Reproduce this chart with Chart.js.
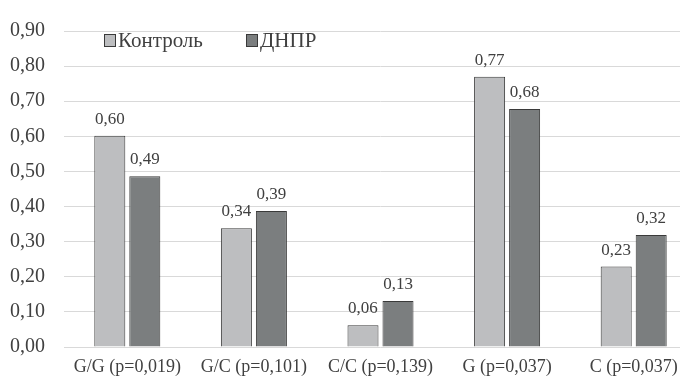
<!DOCTYPE html>
<html>
<head>
<meta charset="utf-8">
<script src="https://cdn.jsdelivr.net/npm/chart.js@4/dist/chart.umd.min.js"></script>
<style>
  html, body { margin: 0; padding: 0; background: #fff; }
  #wrap { width: 680px; height: 380px; overflow: hidden; }
  #box { width: 700px; height: 380px; }
</style>
</head>
<body>
<div id="wrap"><div id="box"><canvas id="chart"></canvas></div></div>
<script>
// data
const categories = ["G/G (p=0,019)", "G/C (p=0,101)", "C/C (p=0,139)", "G (p=0,037)", "C (p=0,037)"];
const seriesNames = ["Контроль", "ДНПР"];
const control = [0.602, 0.338, 0.062, 0.770, 0.229];
const dnpr = [0.486, 0.387, 0.131, 0.678, 0.319];
const yTicks = [0, 0.1, 0.2, 0.3, 0.4, 0.5, 0.6, 0.7, 0.8, 0.9];

const textColor = "#404040";
const serif = "\"Liberation Serif\", serif";
const fmt = v => v.toFixed(2).replace(".", ",");

// value labels above bars
const valueLabels = {
    id: "valueLabels",
    afterDatasetsDraw(chart) {
        const ctx = chart.ctx;
        ctx.save();
        ctx.font = "17px " + serif;
        ctx.fillStyle = textColor;
        ctx.textAlign = "center";
        ctx.textBaseline = "alphabetic";
        chart.data.datasets.forEach((ds, i) => {
            chart.getDatasetMeta(i).data.forEach((bar, j) => {
                ctx.fillText(fmt(ds.data[j]), bar.x, bar.y - 12);
            });
        });
        ctx.restore();
    }
};

// legend drawn inside the plot, top left
const innerLegend = {
    id: "innerLegend",
    afterDraw(chart) {
        const ctx = chart.ctx;
        ctx.save();
        ctx.font = "21px " + serif;
        ctx.textBaseline = "alphabetic";
        let x = 104;
        chart.data.datasets.forEach(ds => {
            ctx.fillStyle = ds.backgroundColor;
            ctx.strokeStyle = ds.borderColor;
            ctx.lineWidth = 1;
            ctx.fillRect(x, 34, 12, 13);
            ctx.strokeRect(x + 0.5, 34.5, 11, 12);
            ctx.fillStyle = textColor;
            ctx.fillText(ds.label, x + 14, 47);
            x += 142;
        });
        ctx.restore();
    }
};

new Chart(document.getElementById("chart"), {
    type: "bar",
    data: {
        labels: categories,
        datasets: [
            {
                label: seriesNames[0],
                data: control,
                backgroundColor: "#bdbec0",
                borderColor: "#3a3a3a",
                borderWidth: 1
            },
            {
                label: seriesNames[1],
                data: dnpr,
                backgroundColor: "#7b7e7f",
                borderColor: "#3a3a3a",
                borderWidth: 1
            }
        ]
    },
    options: {
        responsive: true,
        maintainAspectRatio: false,
        animation: false,
        layout: { padding: { top: 21, right: 3, left: 0, bottom: 0 } },
        datasets: {
            bar: { categoryPercentage: 0.553, barPercentage: 0.886 }
        },
        plugins: {
            legend: { display: false },
            tooltip: { enabled: false }
        },
        scales: {
            x: {
                grid: { display: false, drawTicks: false },
                border: { display: false },
                ticks: {
                    color: textColor,
                    font: { family: serif, size: 18 },
                    padding: 9,
                    maxRotation: 0,
                    autoSkip: false
                },
                afterFit(scale) { scale.height = 33; }
            },
            y: {
                min: 0,
                max: 0.9,
                afterBuildTicks(scale) {
                    scale.ticks = yTicks.map(v => ({ value: v }));
                },
                grid: { color: "#d9d9d9", lineWidth: 1, drawTicks: false },
                border: { display: false },
                ticks: {
                    color: textColor,
                    font: { family: serif, size: 20 },
                    padding: 19,
                    callback: v => fmt(v)
                },
                afterFit(scale) { scale.width = 64; }
            }
        }
    },
    plugins: [valueLabels, innerLegend]
});
</script>
</body>
</html>
